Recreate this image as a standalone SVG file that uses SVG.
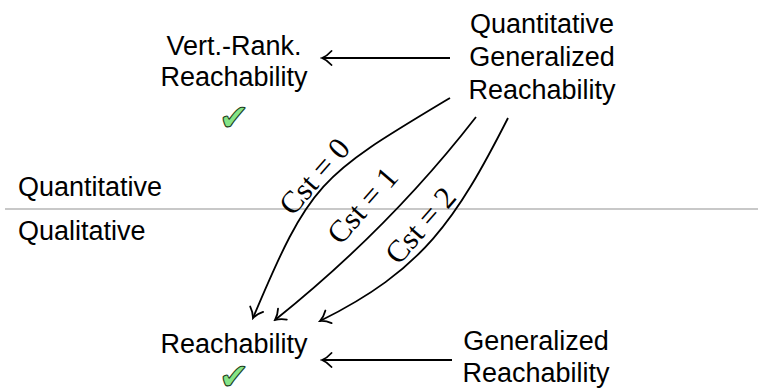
<svg xmlns="http://www.w3.org/2000/svg" width="758" height="391" viewBox="0 0 758 391">
  <style>
    .lbl { font-family: "Liberation Sans", Arial, sans-serif; font-size: 27px; fill: #000; }
    .mid { text-anchor: middle; }
    .cst { font-family: "Liberation Serif", "Times New Roman", serif; font-size: 31px; fill: #000; text-anchor: middle; }
    .ok { font-family: "DejaVu Sans", sans-serif; font-size: 36px; fill: #86e486; stroke: #1d3d1d; stroke-width: 1.1; text-anchor: middle; }
    .edge { fill: none; stroke: #000; stroke-width: 1.8; marker-end: url(#tip); }
    .sep { stroke: #c8c8c8; stroke-width: 2; }
  </style>
  <defs>
    <marker id="tip" viewBox="-12 -9 14 18" refX="0" refY="0" markerWidth="14" markerHeight="18" markerUnits="userSpaceOnUse" orient="auto">
      <path d="M-9.5,-7 C-6,-3 -2.5,-1 0,0 C-2.5,1 -6,3 -9.5,7" fill="none" stroke="#000" stroke-width="1.8" stroke-linecap="round"/>
    </marker>
  </defs>

  <rect width="758" height="391" fill="#fff"/>

  <!-- separator between quantitative and qualitative problems -->
  <line class="sep" x1="5" y1="209" x2="758" y2="209"/>
  <text class="lbl" x="18" y="196">Quantitative</text>
  <text class="lbl" x="18" y="240">Qualitative</text>

  <g id="vert-rank">
    <text class="lbl mid" x="234" y="55">Vert.-Rank.</text>
    <text class="lbl mid" x="234" y="86">Reachability</text>
    <text class="ok" x="234" y="130">✔</text>
  </g>

  <g id="quant-gen">
    <text class="lbl mid" x="542" y="33">Quantitative</text>
    <text class="lbl mid" x="542" y="66">Generalized</text>
    <text class="lbl mid" x="542" y="99">Reachability</text>
  </g>

  <g id="reach">
    <text class="lbl mid" x="234" y="353">Reachability</text>
    <text class="ok" x="234" y="389">✔</text>
  </g>

  <g id="gen">
    <text class="lbl mid" x="536" y="350">Generalized</text>
    <text class="lbl mid" x="536" y="382">Reachability</text>
  </g>

  <g id="connectors">
    <path class="edge" d="M450,58 L322,58"/>
    <path class="edge" d="M452,360 L322,360"/>
    <path class="edge" d="M450,98 C320,176 311,180 253,318"/>
    <path class="edge" d="M476,117 C417,193 350,260 275,320"/>
    <path class="edge" d="M508,118 C456,220 423,270 320,321"/>
    <text class="cst" transform="translate(314,176) rotate(-49)" dy="0.35em">Cst = 0</text>
    <text class="cst" transform="translate(362,205) rotate(-49)" dy="0.35em">Cst = 1</text>
    <text class="cst" transform="translate(420,225) rotate(-49)" dy="0.35em">Cst = 2</text>
  </g>
</svg>
